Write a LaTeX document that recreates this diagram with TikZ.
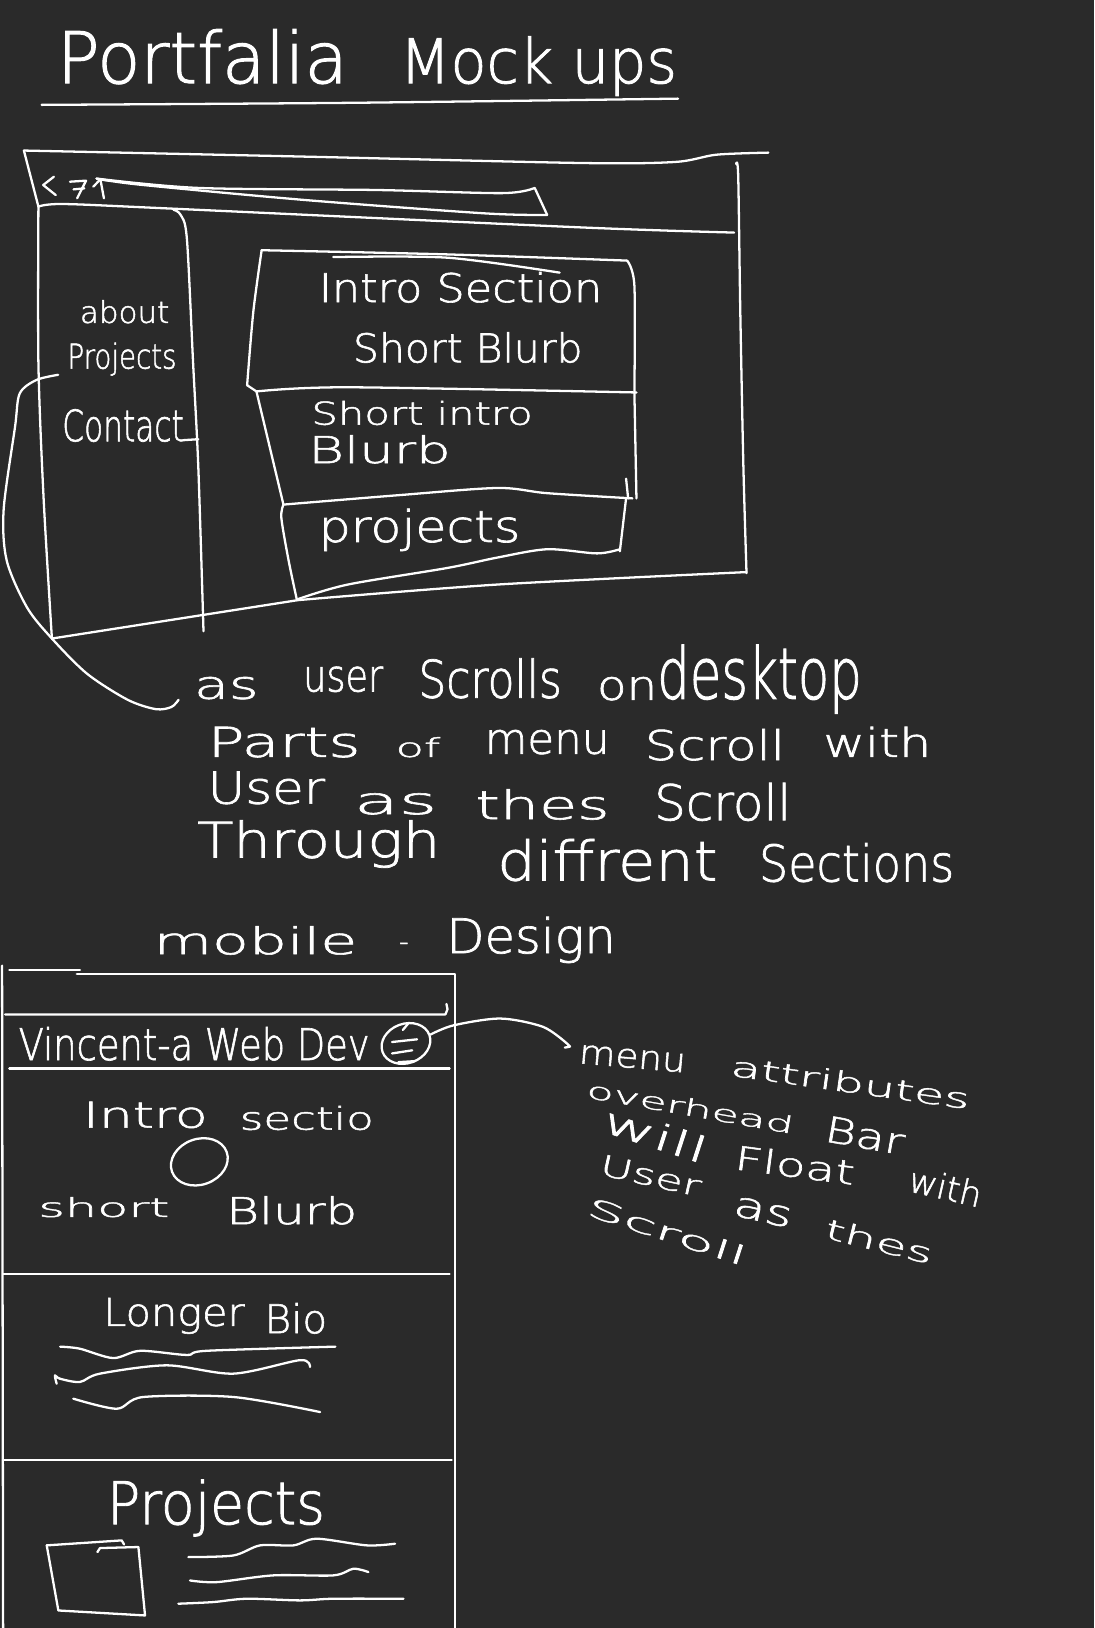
\documentclass[tikz,border=0pt]{standalone}
\usepackage{graphicx}
\usepackage{fontspec}
\IfFontExistsTF{DejaVu Sans ExtraLight}{\setmainfont{DejaVu Sans ExtraLight}[FakeBold=1.5]}{\setmainfont{Open Sans}}
\usetikzlibrary{shapes.geometric}
\definecolor{board}{RGB}{42,42,42}
% handwritten word: width, height above baseline, text
\newcommand{\hw}[3]{\resizebox{#1pt}{#2pt}{#3}}

\begin{document}
\begin{tikzpicture}[x=1pt,y=-1pt,
  ink/.style={draw=white, line width=2.2pt, line cap=round, line join=round},
  hand/.style={inner sep=0pt, outer sep=0pt, anchor=base west, text=white}]
\fill[board] (0,0) rectangle (1054,1568);
\useasboundingbox (0,0) rectangle (1054,1568);

% ---------- title ----------
\node[hand] (title1) at (55,80) {\hw{280}{52}{Portfalia}};
\node[hand] (title2) at (385,80) {\hw{267}{45}{Mock ups}};
\draw[ink] plot[smooth] coordinates {(40,101) (340,99) (653,95)};

% ---------- desktop browser window ----------
\draw[ink] plot[smooth] coordinates {(23,145) (300,151) (560,157) (650,156) (690,149) (740,147)};
\draw[ink] (23,145) -- (37,199);
\draw[ink] plot[smooth] coordinates {(37,199) (37,350) (42,480) (50,615)};
\draw[ink] plot[smooth] coordinates {(37,199) (61,196.5) (167,201) (559,219) (707,224)};
\draw[ink] plot[smooth] coordinates {(709,158) (711,170) (713,300) (716,450) (719,552)};
\draw[ink] (50,615) -- (287,578);
\draw[ink] plot[smooth] coordinates {(287,578) (479,563) (719,551)};

% address bar
\draw[ink] plot[smooth] coordinates {(93,172) (191,181) (363,183) (484,186) (515,181)} -- (527,207);
\draw[ink] plot[smooth] coordinates {(527,207) (467,205.5) (294.5,192.7) (136,178) (93,172)};
% back / forward / reload marks
\draw[ink] (51.9,170.2) -- (41.6,178.2) -- (53.7,187.9);
\draw[ink] (67.4,175) -- (82.9,174) -- (74.3,191);
\draw[ink] (70.9,182.4) -- (81.2,181.4);
\draw[ink] (89.8,179.8) -- (96.7,172.8) -- (106,174);
\draw[ink] (96.7,172.8) -- (100.1,191);

% side menu
\draw[ink] plot[smooth] coordinates {(167,202) (174,207) (180,230) (186,350) (191,450) (196,608)};
\node[hand] (navabout) at (77,311) {\hw{86}{22}{about}};
\node[hand] (navprojects) at (65,355) {\hw{105}{25}{Projects}};
\node[hand] (navcontact) at (60,425) {\hw{117}{31}{Contact}};
\draw[ink] (176,424) -- (191,423);

% intro section box
\draw[ink] plot[smooth] coordinates {(238,371) (244,300) (252,241)};
\draw[ink] plot[smooth] coordinates {(252,241) (430,245) (604,251)};
\draw[ink] plot[smooth] coordinates {(321,247.6) (431,248.2) (539,262.6)};
\draw[ink] plot[smooth] coordinates {(604,251) (611,275) (611,378)};
\draw[ink] (238,371) -- (247,377);
\draw[ink] plot[smooth] coordinates {(247,377) (335,373) (613,378)};
\node[hand] (dintro) at (307,291) {\hw{273}{29}{Intro Section}};
\node[hand] (dblurb) at (340,349) {\hw{221}{29}{Short Blurb}};

% short intro box
\draw[ink] (247,377) -- (273,486);
\draw[ink] (611,378) -- (613,480);
\draw[ink] (603,461) -- (605,480);
\draw[ink] plot[smooth] coordinates {(273,486) (383,477) (479,470) (527,475) (609,480)};
\node[hand] (dshort) at (300,409) {\hw{213}{23}{Short intro}};
\node[hand] (dshortb) at (297,446) {\hw{137}{27}{Blurb}};

% projects box
\draw[ink] plot[smooth] coordinates {(273,486) (271,499) (278,540) (286,578)};
\draw[ink] (603,480) -- (597,531);
\draw[ink] plot[smooth] coordinates {(597,529) (575,533) (527,529) (479,537) (431,547) (335,563) (287,577)};
\node[hand] (dprojects) at (307,522) {\hw{194}{32}{projects}};

% ---------- note on desktop scrolling ----------
\node[hand] (n1a) at (187,673) {\hw{62}{21}{as}};
\node[hand] (n1b) at (292,666) {\hw{77}{24}{user}};
\node[hand] (n1c) at (403,672) {\hw{138}{38}{Scrolls}};
\node[hand] (n1d) at (575,674) {\hw{58}{22}{on}};
\node[hand] (n1e) at (633,673) {\hw{197}{52}{desktop}};
\node[hand] (n2a) at (200,729) {\hw{147}{29}{Parts}};
\node[hand] (n2b) at (381,729) {\hw{43}{19}{of}};
\node[hand] (n2c) at (467,726) {\hw{120}{23}{menu}};
\node[hand] (n2d) at (621,732) {\hw{135}{30}{Scroll}};
\node[hand] (n2e) at (793,729) {\hw{104}{29}{with}};
\node[hand] (n3a) at (200,774) {\hw{113}{31}{User}};
\node[hand] (n3b) at (341,784) {\hw{80}{20}{as}};
\node[hand] (n3c) at (458,789) {\hw{129}{29}{thes}};
\node[hand] (n3d) at (630,790) {\hw{132}{36}{Scroll}};
\node[hand] (n4a) at (190,826) {\hw{234}{36}{Through}};
\node[hand] (n4b) at (479,848) {\hw{212}{40}{diffrent}};
\node[hand] (n4c) at (731,849) {\hw{188}{37}{Sections}};

% link from the menu item to the note
\coordinate (navhook) at ([xshift=-9pt,yshift=-6pt]navprojects.base west);
\coordinate (notehook) at (172,674);
\draw[ink] plot[smooth] coordinates {(navhook) (35,366) (19,379) (14.5,411) (3.5,491) (6.5,540) (26,585) (50,615) (84,649) (123,674) (150,683) (165,681) (notehook)};

% ---------- mobile heading ----------
\node[hand] (mob1) at (148,919) {\hw{196}{27}{mobile}};
\node[text=white, inner sep=0pt, font=\fontsize{26}{26}\selectfont] (mobdash) at (389,912) {-};
\node[hand] (mob2) at (430,918) {\hw{163}{35}{Design}};

% ---------- mobile screen ----------
\draw[ink] (2,930) -- (3,1568);
\draw[ink] (9,934) -- (77,934);
\draw[ink] (74,938) -- (438,938) -- (438,1568);
\draw[ink] (5,977) -- (429,977) -- (431,972) -- (430,967);
\draw[ink] (9,1029) -- (433,1029);
\draw[ink] (3,1227) -- (433,1227);
\draw[ink] (3,1406) -- (435,1406);

\node[hand] (brand) at (18,1021) {\hw{338}{32}{Vincent-a Web Dev}};
\node[ink, ellipse, minimum width=48pt, minimum height=38pt, rotate=20, inner sep=0pt] (burger) at (391,1005) {};
\draw[ink] (377.6,1003.6) -- (401.7,1001);
\draw[ink] (377.6,1014.6) -- (397,1011.6);
\draw[ink] (383.6,1023) -- (399.8,1022);
\draw[ink] (388,992) -- (393,986);

\node[hand] (mintro) at (80,1086) {\hw{120}{25}{Intro}};
\node[hand] (msect) at (231,1088) {\hw{129}{23}{sectio}};
\node[ink, ellipse, minimum width=56pt, minimum height=44pt, rotate=20, inner sep=0pt] (avatar) at (192,1119) {};
\node[hand] (mshort) at (37,1172) {\hw{126}{19}{short}};
\node[hand] (mblurb) at (218,1179) {\hw{126}{27}{Blurb}};

\node[hand] (mlonger) at (99.5,1277) {\hw{136}{27}{Longer}};
\node[hand] (mbio) at (255,1284) {\hw{60}{29}{Bio}};
\draw[ink] plot[smooth] coordinates {(58,1297) (77,1299) (109,1308) (135,1301) (180,1305) (199,1301) (323,1297)};
\draw[ink] plot[smooth] coordinates {(54.6,1332.7) (52.9,1324.7) (57.8,1327.9) (77,1331) (96.3,1323) (160.6,1315) (224.8,1323) (289,1310) (298.6,1316.6)};
\draw[ink] plot[smooth] coordinates {(70.6,1347.1) (112.4,1356.8) (138,1345.5) (224.8,1345.5) (308.3,1360)};

\node[hand] (mprojects) at (103,1468) {\hw{210}{43}{Projects}};
\draw[ink] (45,1488.4) -- (117.2,1483.6) -- (119.5,1487.5);
\draw[ink] (93.8,1494.9) -- (96.3,1491) -- (133.3,1490) -- (139.7,1555.9) -- (56.2,1551.1) -- (45,1488.4);
\draw[ink] plot[smooth] coordinates {(181.4,1499.7) (224.8,1498.1) (250.5,1488.4) (282.6,1488.4) (305.1,1482) (353.3,1488.4) (380.5,1486.8)};
\draw[ink] plot[smooth] coordinates {(183,1522.2) (208.7,1523.8) (263.3,1517.3) (321.1,1517.3) (340.4,1510.9) (354.8,1514.1)};
\draw[ink] plot[smooth] coordinates {(171.8,1544.6) (205.5,1543) (237.6,1539.8) (289,1541.4) (321.1,1539.8) (388.6,1539.8)};

% ---------- note on the menu bar ----------
\node[hand, rotate=-5] (a1) at (557,1024) {\hw{103}{18}{menu}};
\node[hand, rotate=-8] (a2) at (703,1036) {\hw{232}{20}{attributes}};
\node[hand, rotate=-10] (a3) at (564,1057) {\hw{202}{17}{overhead}};
\node[hand, rotate=-10] (a4) at (793,1099) {\hw{77}{25}{Bar}};
\node[hand, rotate=-18] (a5) at (578,1089) {\hw{104}{26}{will}};
\node[hand, rotate=-7.5] (a6) at (706.5,1126) {\hw{116}{24}{Float}};
\node[hand, rotate=-13] (a7) at (873.5,1147) {\hw{71}{25}{with}};
\node[hand, rotate=-12.6] (a8) at (576.4,1131) {\hw{99}{20}{User}};
\node[hand, rotate=-13] (a9) at (705,1170) {\hw{57}{19}{as}};
\node[hand, rotate=-14] (a10) at (793,1192) {\hw{106}{20}{thes}};
\node[hand, rotate=-18] (a11) at (563.6,1170) {\hw{160}{19}{Scroll}};

% link from the menu button to the note
\coordinate (menutail) at (546,1005);
\draw[ink] plot[smooth] coordinates {(burger.east) (437,987.5) (482,981) (523,989) (menutail)} -- (549,1008) -- (544,1009);
\end{tikzpicture}
\end{document}
